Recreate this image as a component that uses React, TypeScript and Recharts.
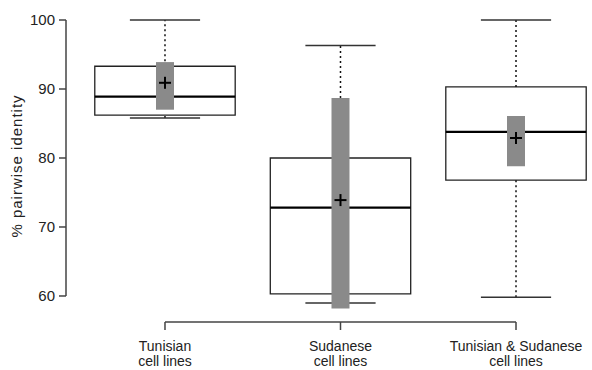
import { ComposedChart, XAxis, YAxis, ReferenceArea, ReferenceLine, Scatter } from 'recharts';

const categories = [
  ['Tunisian', 'cell lines'],
  ['Sudanese', 'cell lines'],
  ['Tunisian & Sudanese', 'cell lines'],
];
const positions = [1, 2, 3];
const q1 = [86.2, 60.3, 76.8];
const median = [88.9, 72.8, 83.8];
const q3 = [93.3, 80.0, 90.3];
const whiskerLow = [85.8, 59.0, 59.8];
const whiskerHigh = [100, 96.3, 100];
const means = [90.9, 73.9, 82.9];
const ciLow = [87.0, 58.2, 78.8];
const ciHigh = [93.9, 88.7, 86.1];
const yTicks = [60, 70, 80, 90, 100];

const X_DOMAIN: [number, number] = [0.436, 3.433];
const Y_DOMAIN: [number, number] = [56.23, 101.45];
const BOX_HALF = 0.4;
const CAP_HALF = 0.2;

const meanData = positions.map((x, i) => ({ x, mean: means[i] }));

const font = 'Arial, "Liberation Sans", sans-serif';

const Cross = (props: any) => {
  const { cx, cy } = props;
  return (
    <g>
      <line x1={cx - 6} x2={cx + 6} y1={cy} y2={cy} stroke="#000" strokeWidth={2} />
      <line x1={cx} x2={cx} y1={cy - 6} y2={cy + 6} stroke="#000" strokeWidth={2} />
    </g>
  );
};

const CategoryTick = (props: any) => {
  const { x, y, payload } = props;
  const idx = positions.indexOf(payload.value);
  const lines = categories[idx] || [];
  return (
    <text x={x} y={y} textAnchor="middle" fontSize={14} fontFamily={font} fill="#222">
      {lines.map((l, i) => (
        <tspan key={i} x={x} dy={i === 0 ? 19 : 15}>{l}</tspan>
      ))}
    </text>
  );
};

export default function App() {
  return (
    <div style={{ position: 'absolute', left: 0, top: 0, background: '#fff' }}>
      <ComposedChart width={592} height={370} data={meanData} margin={{ top: 10, right: 0, bottom: 0, left: 0 }}>
        <XAxis
          dataKey="x"
          type="number"
          domain={X_DOMAIN}
          allowDataOverflow
          ticks={positions}
          interval={0}
          axisLine={false}
          tickLine={{ stroke: '#444', strokeWidth: 1.5 }}
          tickSize={8}
          height={48}
          tick={<CategoryTick />}
        />
        <YAxis
          type="number"
          domain={Y_DOMAIN}
          allowDataOverflow
          ticks={yTicks}
          interval={0}
          width={66}
          axisLine={false}
          tickLine={{ stroke: '#444', strokeWidth: 1.5 }}
          tickSize={7}
          tickMargin={4}
          tick={{ fontSize: 15, fontFamily: font, fill: '#222' }}
          label={{ value: '% pairwise identity', angle: -90, position: 'insideLeft', offset: 17, style: { fontSize: 15, fontFamily: font, fill: '#222', letterSpacing: 1, textAnchor: 'middle' } }}
        />

        {/* boxes */}
        {positions.map((x, i) => (
          <ReferenceArea key={`b${i}`} x1={x - BOX_HALF} x2={x + BOX_HALF} y1={q1[i]} y2={q3[i]} fill="#fff" fillOpacity={1} stroke="#222" strokeWidth={1.3} ifOverflow="visible" />
        ))}

        {/* axis lines only span the data range, R style */}
        <ReferenceLine segment={[{ x: X_DOMAIN[0], y: 60 }, { x: X_DOMAIN[0], y: 100 }]} stroke="#444" strokeWidth={1.5} ifOverflow="visible" />
        <ReferenceLine segment={[{ x: 1, y: Y_DOMAIN[0] }, { x: 3, y: Y_DOMAIN[0] }]} stroke="#444" strokeWidth={1.5} ifOverflow="visible" />

        {/* whiskers */}
        {positions.map((x, i) => (
          <ReferenceLine key={`wh${i}`} segment={[{ x, y: q3[i] }, { x, y: whiskerHigh[i] }]} stroke="#111" strokeWidth={1.5} strokeDasharray="2 3" ifOverflow="visible" />
        ))}
        {positions.map((x, i) => (
          <ReferenceLine key={`wl${i}`} segment={[{ x, y: whiskerLow[i] }, { x, y: q1[i] }]} stroke="#111" strokeWidth={1.5} strokeDasharray="2 3" ifOverflow="visible" />
        ))}
        {positions.map((x, i) => (
          <ReferenceLine key={`ch${i}`} segment={[{ x: x - CAP_HALF, y: whiskerHigh[i] }, { x: x + CAP_HALF, y: whiskerHigh[i] }]} stroke="#333" strokeWidth={1.5} ifOverflow="visible" />
        ))}
        {positions.map((x, i) => (
          <ReferenceLine key={`cl${i}`} segment={[{ x: x - CAP_HALF, y: whiskerLow[i] }, { x: x + CAP_HALF, y: whiskerLow[i] }]} stroke="#333" strokeWidth={1.5} ifOverflow="visible" />
        ))}
        {positions.map((x, i) => (
          <ReferenceLine key={`m${i}`} segment={[{ x: x - BOX_HALF, y: median[i] }, { x: x + BOX_HALF, y: median[i] }]} stroke="#000" strokeWidth={2.2} ifOverflow="visible" />
        ))}

        {/* confidence bars, drawn after medians so they sit on top */}
        {positions.map((x, i) => (
          <ReferenceLine key={`ci${i}`} segment={[{ x, y: ciLow[i] }, { x, y: ciHigh[i] }]} stroke="#8a8a8a" strokeWidth={18} strokeLinecap="butt" ifOverflow="visible" />
        ))}

        <Scatter dataKey="mean" shape={<Cross />} isAnimationActive={false} />
      </ComposedChart>
    </div>
  );
}
